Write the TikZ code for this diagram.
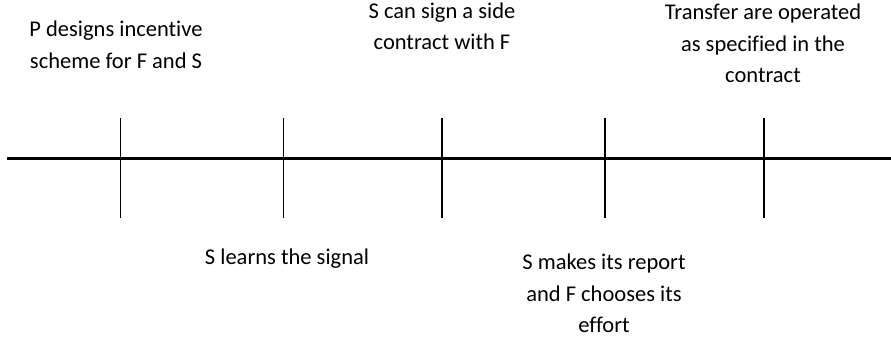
\documentclass[tikz,border=0pt]{standalone}
\usepackage{fontspec}
\setmainfont{Carlito}[Ligatures=NoCommon]
\begin{document}
\begin{tikzpicture}[x=1pt,y=-1pt,
  lbl/.style={inner sep=0pt,align=center,anchor=base,font=\fontsize{22.5}{31.5}\selectfont},
  axis/.style={line width=3pt,black},
  tick/.style={line width=1.5pt,black}]
\useasboundingbox (0,0) rectangle (891,339);
\coordinate (L) at (7,158.5);
\coordinate (R) at (891,158.5);
\draw[axis] (L) -- (R);
\foreach \n/\x in {a/120.5,b/283.5,c/442,d/605,e/764}{
  \coordinate (\n t) at (\x,118);
  \coordinate (\n b) at (\x,218);
  \draw[tick] (\n t) -- (\n b);
}
\node[lbl] (p) at (116,68.5) {P designs incentive\\scheme for F and S};
\node[lbl] (s1) at (442,50) {S can sign a side\\contract with F};
\node[lbl] (tr) at (763,83) {Transfer are operated\\as specified in the\\contract};
\node[lbl] (sl) at (287,264.5) {S learns the signal};
\node[lbl] (sm) at (604,332.5) {S makes its report\\and F chooses its\\effort};
\end{tikzpicture}
\end{document}
